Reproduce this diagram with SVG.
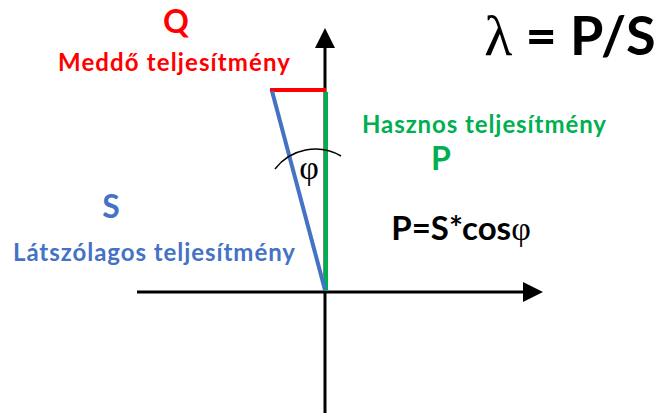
<svg xmlns="http://www.w3.org/2000/svg" width="659" height="413" viewBox="0 0 659 413">
<style>
.lbl{font-family:Lato,"Open Sans","Liberation Sans",sans-serif;font-weight:bold;text-anchor:middle}
.sm{font-size:24px}
.big{font-size:32px}
.ser{font-family:"Liberation Serif","DejaVu Serif",serif;font-weight:normal}
.red{fill:#FF0000}.grn{fill:#00B050}.blu{fill:#4472C4}.blk{fill:#000}
</style>
<defs>
<marker id="ah" markerUnits="userSpaceOnUse" markerWidth="20" markerHeight="20" refX="0" refY="10" orient="auto" viewBox="0 0 20 20">
<polygon points="0,0 20,10 0,20" fill="#000"/>
</marker>
</defs>
<rect width="659" height="413" fill="#fff"/>
<g id="connectors" fill="none">
<line x1="325" y1="413" x2="325" y2="48" stroke="#000" stroke-width="3" marker-end="url(#ah)"/>
<line x1="137" y1="292" x2="523" y2="292" stroke="#000" stroke-width="3" marker-end="url(#ah)"/>
<line id="Q-vec" x1="270" y1="90" x2="326" y2="90" stroke="#FF0000" stroke-width="4"/>
<line id="P-vec" x1="326" y1="92" x2="326" y2="291" stroke="#00B050" stroke-width="4"/>
<line id="S-vec" x1="272" y1="91" x2="325" y2="290" stroke="#4472C4" stroke-width="4"/>
<path id="arc" d="M275,169 A51,51 0 0 1 341,156" stroke="#000" stroke-width="1.5"/>
</g>
<g id="phi"><text x="309" y="179" class="ser blk" font-size="34" text-anchor="middle">φ</text></g>
<g id="Q"><text x="176" y="33" class="lbl big red">Q</text>
<text x="174" y="71" class="lbl sm red" textLength="232">Meddő teljesítmény</text></g>
<g id="P"><text x="441" y="170" class="lbl big grn">P</text>
<text x="484" y="133" class="lbl sm grn" textLength="244">Hasznos teljesítmény</text></g>
<g id="S"><text x="111" y="218" class="lbl big blu">S</text>
<text x="154" y="261" class="lbl sm blu" textLength="282">Látszólagos teljesítmény</text></g>
<g id="formula"><text x="461" y="240" class="lbl blk" font-size="33">P=S*cos<tspan class="ser" font-size="34">φ</tspan></text></g>
<g id="lambda"><text x="570" y="55" class="lbl blk" font-size="54"><tspan class="ser" font-size="58">λ</tspan> = P/S</text></g>
</svg>
